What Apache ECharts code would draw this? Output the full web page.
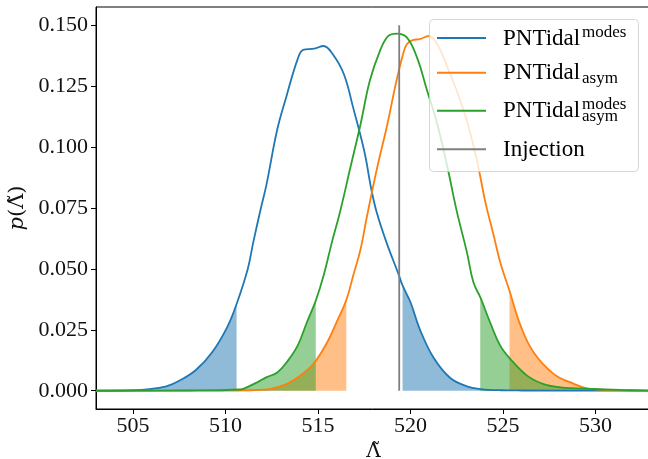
<!DOCTYPE html>
<html>
<head>
<meta charset="utf-8">
<script src="https://cdn.jsdelivr.net/npm/echarts@6/dist/echarts.min.js"></script>
<style>html,body{margin:0;padding:0;background:#fff;}#c{width:648px;height:459px;}</style>
</head>
<body>
<div id="c"></div>
<script>
// ---- data ----
const xTicks = [505, 510, 515, 520, 525, 530];
const yTicks = [0, 0.025, 0.05, 0.075, 0.1, 0.125, 0.15];

// PNTidal^modes (blue)
const lamModes = [503, 505, 505.9, 506.8, 507.5, 508.4, 509.3, 510.1, 510.6, 511.2, 511.5, 511.9, 512.2, 512.8, 513.3, 513.9, 514.2, 514.8, 515.3, 515.8, 516.4, 516.9, 517.5, 517.9, 518.2, 518.7, 519.35, 519.57, 520.0, 520.5, 521.25, 522.15, 523.05, 523.8, 524.9, 526, 533];
const pModes   = [0, 0.0002, 0.0007, 0.0018, 0.0041, 0.0085, 0.0160, 0.0262, 0.0356, 0.0499, 0.0609, 0.0745, 0.0841, 0.1073, 0.1210, 0.1361, 0.1399, 0.1404, 0.1415, 0.1381, 0.1299, 0.1162, 0.0984, 0.0820, 0.0725, 0.0609, 0.0479, 0.0432, 0.0363, 0.0253, 0.0135, 0.0052, 0.0018, 0.0007, 0.0002, 0.0001, 0];
const ciModes  = [510.6, 519.57];

// PNTidal_asym (orange)
const lamAsym = [503, 510, 511.7, 512.4, 513.3, 514.0, 514.75, 515.5, 516.0, 516.53, 516.9, 517.3, 517.65, 518.2, 518.75, 519.2, 519.55, 519.8, 520.15, 520.5, 521.0, 521.45, 522.0, 522.5, 523.05, 523.6, 524.05, 524.5, 524.85, 525.35, 525.95, 526.65, 527.75, 528.65, 529.55, 530.8, 533];
const pAsym   = [0, 0.0001, 0.0003, 0.0007, 0.0027, 0.0060, 0.0110, 0.0199, 0.0281, 0.0372, 0.0472, 0.0581, 0.0717, 0.0916, 0.1094, 0.1258, 0.1368, 0.1422, 0.1440, 0.1443, 0.1456, 0.1422, 0.1327, 0.1231, 0.1107, 0.0942, 0.0773, 0.0636, 0.0527, 0.0410, 0.0267, 0.0158, 0.0068, 0.0034, 0.0010, 0.0003, 0];
const ciAsym  = [516.53, 525.35];

// PNTidal^modes_asym (green)
const lamModesAsym = [503, 508, 510.8, 511.15, 511.7, 512.2, 512.8, 513.3, 513.9, 514.4, 514.88, 515.3, 515.75, 516.2, 516.75, 517.3, 517.8, 518.35, 518.8, 519.25, 519.8, 520.35, 520.9, 521.45, 522.0, 522.5, 523.05, 523.4, 523.77, 524.3, 524.85, 525.4, 526.3, 527.2, 528.1, 529.9, 531.4, 533];
const pModesAsym   = [0, 0.0001, 0.0005, 0.0014, 0.0034, 0.0055, 0.0075, 0.0116, 0.0185, 0.0281, 0.0370, 0.0472, 0.0609, 0.0737, 0.0916, 0.1094, 0.1272, 0.1395, 0.1456, 0.1466, 0.1450, 0.1368, 0.1231, 0.1094, 0.0916, 0.0737, 0.0568, 0.0445, 0.0384, 0.0281, 0.0185, 0.0130, 0.0062, 0.0027, 0.0014, 0.0007, 0.0003, 0];
const ciModesAsym  = [514.88, 523.77];

const injection = 519.39;
const injectionTop = 0.15;

// ---- build ----
const FONT = '"Liberation Serif", "Times New Roman", serif';
const NAMEFONT = '"DejaVu Serif", serif';
const BLUE = '#1f77b4', ORANGE = '#ff7f0e', GREEN = '#2ca02c', GRAY = '#7f7f7f';

function zip(xs, ps) { return xs.map((x, i) => [x, ps[i]]); }
function lowTail(xs, ps, cut) { return zip(xs, ps).filter(d => d[0] <= cut); }
function highTail(xs, ps, cut) { return zip(xs, ps).filter(d => d[0] >= cut); }

function fill(data, color) {
  return {
    type: 'line', data: data, symbol: 'none', smooth: 0.4, silent: true,
    lineStyle: { width: 0 }, areaStyle: { color: color, opacity: 0.5, origin: 0 }, z: 1
  };
}
function curve(name, data, color) {
  return {
    name: name, type: 'line', data: data, symbol: 'none', smooth: 0.4, silent: true,
    lineStyle: { width: 1.8, color: color }, itemStyle: { color: color }, z: 3
  };
}

const series = [
  fill(lowTail(lamModes, pModes, ciModes[0]), BLUE),
  fill(highTail(lamModes, pModes, ciModes[1]), BLUE),
  fill(lowTail(lamAsym, pAsym, ciAsym[0]), ORANGE),
  fill(highTail(lamAsym, pAsym, ciAsym[1]), ORANGE),
  fill(lowTail(lamModesAsym, pModesAsym, ciModesAsym[0]), GREEN),
  fill(highTail(lamModesAsym, pModesAsym, ciModesAsym[1]), GREEN),
  curve('PNTidal modes', zip(lamModes, pModes), BLUE),
  curve('PNTidal asym', zip(lamAsym, pAsym), ORANGE),
  curve('PNTidal modes asym', zip(lamModesAsym, pModesAsym), GREEN),
  {
    name: 'Injection', type: 'line', data: [[injection, 0], [injection, injectionTop]],
    symbol: 'none', silent: true, lineStyle: { width: 1.8, color: GRAY }, z: 4
  }
];

// legend drawn as graphics (stacked super/subscripts)
function txt(s, x, y, size) {
  return { type: 'text', z: 101, silent: true,
    style: { text: s, x: x, y: y, font: size + 'px ' + FONT, fill: '#000',
      align: 'left', textAlign: 'left', verticalAlign: 'middle', textVerticalAlign: 'middle' } };
}
function handle(y, color) {
  return { type: 'line', z: 101, silent: true,
    shape: { x1: 437, y1: y, x2: 486, y2: y }, style: { stroke: color, lineWidth: 2 } };
}
const legendGraphics = [
  { type: 'rect', z: 100, silent: true,
    shape: { x: 429.5, y: 19.5, width: 209, height: 152, r: 4 },
    style: { fill: 'rgba(255,255,255,0.8)', stroke: 'rgba(204,204,204,0.8)', lineWidth: 1 } },
  handle(38, BLUE), handle(72.7, ORANGE), handle(110.7, GREEN), handle(149.3, GRAY),
  txt('PNTidal', 503, 38.7, 23), txt('modes', 582, 32.7, 17),
  txt('PNTidal', 503, 72.8, 23), txt('asym', 582, 78.4, 17),
  txt('PNTidal', 503, 110.5, 23), txt('modes', 582, 104.4, 17), txt('asym', 582, 116.1, 17),
  txt('Injection', 503, 150, 23)
];

const chart = echarts.init(document.getElementById('c'), null, { renderer: 'canvas' });
chart.setOption({
  animation: false,
  backgroundColor: '#fff',
  grid: { left: 96, top: 7, width: 555, height: 402, containLabel: false, outerBoundsMode: 'none',
    show: true, borderColor: '#000', borderWidth: 1, backgroundColor: 'transparent' },
  xAxis: {
    type: 'value', min: 503, max: 533,
    axisLine: { onZero: false, lineStyle: { color: '#000', width: 1 } },
    axisTick: { customValues: xTicks, length: 5, lineStyle: { color: '#000', width: 1 } },
    axisLabel: { customValues: xTicks, fontFamily: FONT, fontSize: 22, color: '#111', margin: 6 },
    splitLine: { show: false },
    name: 'Λ\u0303', nameLocation: 'middle', nameGap: 27,
    nameTextStyle: { fontFamily: NAMEFONT, fontSize: 20, color: '#111' }
  },
  yAxis: {
    type: 'value', min: -0.0075, max: 0.1575,
    axisLine: { show: true, lineStyle: { color: '#000', width: 1 } },
    axisTick: { show: true, customValues: yTicks, length: 5, lineStyle: { color: '#000', width: 1 } },
    axisLabel: { customValues: yTicks, fontFamily: FONT, fontSize: 22, color: '#111', margin: 8,
      formatter: v => v.toFixed(3) },
    splitLine: { show: false },
    name: '{i|p}(Λ\u0303)', nameLocation: 'middle', nameGap: 58, nameRotate: 90,
    nameTextStyle: { fontFamily: NAMEFONT, fontSize: 21, color: '#111',
      rich: { i: { fontFamily: NAMEFONT, fontSize: 21, fontStyle: 'italic', color: '#111' } } }
  },
  series: series,
  graphic: legendGraphics
});
</script>
</body>
</html>
